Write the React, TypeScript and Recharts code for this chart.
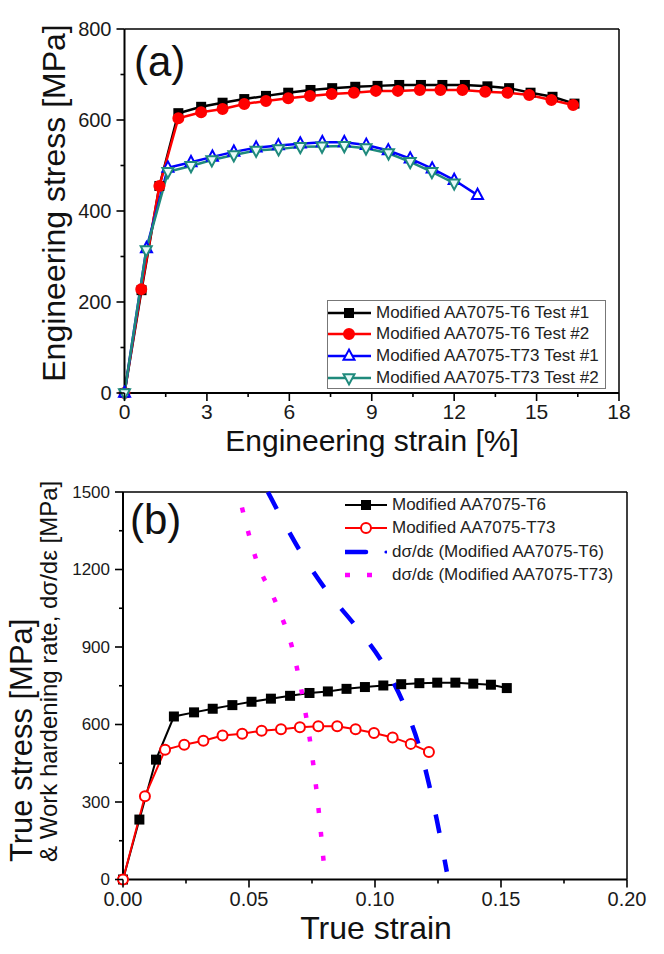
import React from "react";
import { LineChart, Line, XAxis, YAxis, ReferenceLine, Legend, Label } from "recharts";

const FONT = "'Liberation Sans', Arial, Helvetica, sans-serif";

// ---- (a) engineering stress-strain, [strain %, stress MPa]
const t6Test1: [number, number][] = [
  [0, 0], [0.62, 226], [1.27, 455], [1.96, 615], [2.79, 629], [3.57, 638], [4.36, 646],
  [5.15, 653], [5.96, 660], [6.77, 666], [7.56, 670], [8.4, 673], [9.21, 675], [10.0, 677],
  [10.79, 677], [11.57, 677], [12.39, 677], [13.21, 674], [14.0, 670], [14.78, 660],
  [15.58, 651], [16.38, 636],
];
const t6Test2: [number, number][] = [
  [0, 0], [0.61, 228], [1.27, 455], [1.96, 604], [2.79, 617], [3.57, 624], [4.36, 635],
  [5.15, 642], [5.96, 648], [6.75, 653], [7.54, 657], [8.35, 660], [9.15, 664], [9.95, 664],
  [10.75, 666], [11.5, 666], [12.3, 666], [13.13, 662], [13.94, 660], [14.73, 655],
  [15.54, 644], [16.33, 633],
];
const t73Test1: [number, number][] = [
  [0, 0], [0.8, 318], [1.58, 495], [2.42, 507], [3.2, 519], [3.98, 530], [4.79, 539],
  [5.6, 544], [6.4, 548], [7.2, 551], [8.0, 551], [8.8, 545], [9.6, 533], [10.4, 515],
  [11.2, 493], [12.0, 468], [12.85, 435],
];
const t73Test2: [number, number][] = [
  [0, 0], [0.79, 314], [1.58, 486], [2.42, 499], [3.18, 512], [3.98, 523], [4.79, 533],
  [5.61, 536], [6.4, 541], [7.19, 542], [8.0, 543], [8.79, 538], [9.61, 527], [10.4, 508],
  [11.19, 486], [12.0, 461],
];
const strainTicksA = [0, 1.5, 3, 4.5, 6, 7.5, 9, 10.5, 12, 13.5, 15, 16.5, 18];
const stressTicksA = [0, 100, 200, 300, 400, 500, 600, 700, 800];

// ---- (b) true stress-strain and work hardening rate, [true strain, MPa]
const trueT6: [number, number][] = [
  [0, 0], [0.0065, 232], [0.0131, 464], [0.0202, 631], [0.0282, 647], [0.0356, 661],
  [0.0434, 675], [0.051, 688], [0.0587, 700], [0.0663, 711], [0.074, 722], [0.0813, 728],
  [0.0887, 738], [0.096, 745], [0.1033, 751], [0.1104, 756], [0.1176, 760], [0.1247, 762],
  [0.1319, 762], [0.139, 758], [0.146, 754], [0.1523, 741],
];
const trueT73: [number, number][] = [
  [0, 0], [0.0087, 322], [0.0167, 502], [0.0243, 522], [0.0319, 537], [0.0395, 557],
  [0.0473, 564], [0.055, 576], [0.0627, 582], [0.0702, 589], [0.0775, 593], [0.085, 593],
  [0.0923, 582], [0.0996, 567], [0.107, 550], [0.1142, 525], [0.1214, 494],
];
const hardT6: [number, number][] = [
  [0.0575, 1500], [0.0716, 1250], [0.0821, 1101], [0.0914, 992], [0.1046, 812],
  [0.1126, 651], [0.1179, 503], [0.1245, 232], [0.1285, 30],
];
const hardT73: [number, number][] = [
  [0.0472, 1440], [0.0527, 1243], [0.061, 1063], [0.0676, 879], [0.0715, 696],
  [0.0745, 518], [0.0769, 335], [0.0798, 50],
];
const strainTicksB = [0, 0.025, 0.05, 0.075, 0.1, 0.125, 0.15, 0.175, 0.2];
const stressTicksB = [0, 150, 300, 450, 600, 750, 900, 1050, 1200, 1350, 1500];

const pts = (arr: [number, number][]) => arr.map(([x, y]) => ({ x, y }));

type TickOpts = { side: "left" | "bottom"; fontSize: number; gap: number; fmt: (v: number) => string };
const makeTick = (o: TickOpts) => (props: any) => {
  const { x, y, payload, index } = props;
  const major = index % 2 === 0;
  const len = major ? 8 : 4;
  if (o.side === "left") {
    return (
      <g>
        <line x1={x} x2={x - len} y1={y} y2={y} stroke="#000" strokeWidth={1.6} />
        {major && (
          <text x={x - 8 - o.gap} y={y} textAnchor="end" dominantBaseline="central"
            fontSize={o.fontSize} fontFamily={FONT} fill="#1a1a1a">
            {o.fmt(payload.value)}
          </text>
        )}
      </g>
    );
  }
  return (
    <g>
      <line x1={x} x2={x} y1={y} y2={y + len} stroke="#000" strokeWidth={1.6} />
      {major && (
        <text x={x} y={y + 8 + o.gap} textAnchor="middle" dominantBaseline="hanging"
          fontSize={o.fontSize} fontFamily={FONT} fill="#1a1a1a">
          {o.fmt(payload.value)}
        </text>
      )}
    </g>
  );
};

const square = (size: number, color: string) => (p: any) => (
  <rect key={`sq${p.index}`} x={p.cx - size / 2} y={p.cy - size / 2} width={size} height={size} fill={color} />
);
const circle = (r: number, stroke: string, fill: string) => (p: any) => (
  <circle key={`ci${p.index}`} cx={p.cx} cy={p.cy} r={r} fill={fill} stroke={stroke} strokeWidth={2} />
);
const triangle = (s: number, stroke: string, fill: string, down: boolean) => (p: any) => {
  const d = down ? -1 : 1;
  const { cx, cy } = p;
  const points = `${cx},${cy - d * s * 0.58} ${cx - s / 2},${cy + d * s * 0.35} ${cx + s / 2},${cy + d * s * 0.35}`;
  return <polygon key={`tr${p.index}`} points={points} fill={fill} stroke={stroke} strokeWidth={2} />;
};

const legendItemsA = [
  { name: "Modified AA7075-T6 Test #1", color: "#000000", dot: square(10, "#000000") },
  { name: "Modified AA7075-T6 Test #2", color: "#ff0000", dot: circle(5, "#ff0000", "#ff0000") },
  { name: "Modified AA7075-T73 Test #1", color: "#0000ff", dot: triangle(11, "#0000ff", "#ffffff", false) },
  { name: "Modified AA7075-T73 Test #2", color: "#1f8a7c", dot: triangle(11, "#1f8a7c", "#e8fbf8", true) },
];

const LegendA = () => (
  <div style={{ border: "1px solid #777", background: "#fff", padding: "1px 6px 0 0",
    fontFamily: FONT, fontSize: 17, color: "#222" }}>
    {legendItemsA.map((it) => (
      <div key={it.name} style={{ display: "flex", alignItems: "center", height: 21.6 }}>
        <svg width={43} height={20} style={{ display: "block" }}>
          <line x1={0} x2={43} y1={10} y2={10} stroke={it.color} strokeWidth={2.5} />
          {it.dot({ cx: 21, cy: 10, index: 0 })}
        </svg>
        <span style={{ marginLeft: 5, whiteSpace: "nowrap" }}>{it.name}</span>
      </div>
    ))}
  </div>
);

const LegendB = () => {
  const rows = [
    { name: "Modified AA7075-T6", sample: (
      <>
        <line x1={0} x2={42} y1={10} y2={10} stroke="#000" strokeWidth={2} />
        {square(10, "#000")({ cx: 21, cy: 10, index: 0 })}
      </>) },
    { name: "Modified AA7075-T73", sample: (
      <>
        <line x1={0} x2={42} y1={10} y2={10} stroke="#ff0000" strokeWidth={2} />
        {circle(5, "#ff0000", "#fff")({ cx: 21, cy: 10, index: 0 })}
      </>) },
    { name: "d\u03c3/d\u03b5 (Modified AA7075-T6)", sample: (
      <>
        <line x1={0} x2={21} y1={10} y2={10} stroke="#0000ff" strokeWidth={4.5} strokeLinecap="round" />
        <circle cx={41} cy={10} r={1.6} fill="#0000ff" />
      </>) },
    { name: "d\u03c3/d\u03b5 (Modified AA7075-T73)", sample: (
      <>
        <line x1={0} x2={42} y1={10} y2={10} stroke="#ff00ff" strokeWidth={4.5} strokeDasharray="5 17" />
      </>) },
  ];
  return (
    <div style={{ fontFamily: FONT, fontSize: 17, color: "#222" }}>
      {rows.map((r) => (
        <div key={r.name} style={{ display: "flex", alignItems: "center", height: 23.3 }}>
          <svg width={42} height={20} style={{ display: "block" }}>{r.sample}</svg>
          <span style={{ marginLeft: 5, whiteSpace: "nowrap" }}>{r.name}</span>
        </div>
      ))}
    </div>
  );
};

const txt = (x: number, y: number, s: string, size: number, extra: any = {}) => () => (
  <text x={x} y={y} fontSize={size} fontFamily={FONT} fill="#111" {...extra}>{s}</text>
);

export default function App() {
  return (
    <div style={{ position: "absolute", left: 0, top: 0, width: 664, height: 954, background: "#fff" }}>
      <div style={{ position: "absolute", left: 0, top: 0 }}>
        <LineChart width={664} height={470} margin={{ top: 29, right: 45, left: 0, bottom: 0 }}>
          <XAxis type="number" dataKey="x" domain={[0, 18]} ticks={strainTicksA} interval={0}
            allowDuplicatedCategory={false} tickSize={0} tickMargin={0} height={77}
            axisLine={{ stroke: "#000", strokeWidth: 2 }} tickLine={false}
            tick={makeTick({ side: "bottom", fontSize: 21, gap: 3, fmt: (v) => String(v) })}>
            <Label content={txt(372, 451, "Engineering strain [%]", 30, { textAnchor: "middle" })} />
            <Label content={txt(134, 76, "(a)", 42)} />
          </XAxis>
          <YAxis type="number" dataKey="y" domain={[0, 800]} ticks={stressTicksA} interval={0}
            width={124.5} tickSize={0} tickMargin={0}
            axisLine={{ stroke: "#000", strokeWidth: 2 }} tickLine={false}
            tick={makeTick({ side: "left", fontSize: 20, gap: 5, fmt: (v) => String(v) })}>
            <Label content={txt(54, 203, "Engineering stress [MPa]", 32,
              { textAnchor: "middle", dominantBaseline: "central", transform: "rotate(-90 54 203)" })} />
          </YAxis>
          <ReferenceLine y={800} stroke="#000" strokeWidth={1.5} />
          <ReferenceLine x={18} stroke="#000" strokeWidth={1.5} />
          <Line data={pts(t6Test1)} dataKey="y" stroke="#000" strokeWidth={2.5} type="linear"
            dot={square(10, "#000")} isAnimationActive={false} />
          <Line data={pts(t6Test2)} dataKey="y" stroke="#ff0000" strokeWidth={2.5} type="linear"
            dot={circle(5, "#ff0000", "#ff0000")} isAnimationActive={false} />
          <Line data={pts(t73Test1)} dataKey="y" stroke="#0000ff" strokeWidth={2.5} type="linear"
            dot={triangle(11, "#0000ff", "#ffffff", false)} isAnimationActive={false} />
          <Line data={pts(t73Test2)} dataKey="y" stroke="#1f8a7c" strokeWidth={2.5} type="linear"
            dot={triangle(11, "#1f8a7c", "#e8fbf8", true)} isAnimationActive={false} />
          <Legend layout="vertical" align="center" verticalAlign="middle"
            wrapperStyle={{ left: 327, top: 300, width: "auto" }} content={() => <LegendA />} />
        </LineChart>
      </div>

      <div style={{ position: "absolute", left: 0, top: 470 }}>
        <LineChart width={664} height={484} margin={{ top: 22, right: 37, left: 0, bottom: 0 }}>
          <XAxis type="number" dataKey="x" domain={[0, 0.2]} ticks={strainTicksB} interval={0}
            allowDuplicatedCategory={false} tickSize={0} tickMargin={0} height={74.5}
            axisLine={{ stroke: "#000", strokeWidth: 2 }} tickLine={false}
            tick={makeTick({ side: "bottom", fontSize: 20, gap: 4, fmt: (v) => v.toFixed(2) })}>
            <Label content={txt(376, 469, "True strain", 32, { textAnchor: "middle" })} />
            <Label content={txt(130, 64, "(b)", 42)} />
          </XAxis>
          <YAxis type="number" dataKey="y" domain={[0, 1500]} ticks={stressTicksB} interval={0}
            width={123} tickSize={0} tickMargin={0}
            axisLine={{ stroke: "#000", strokeWidth: 2 }} tickLine={false}
            tick={makeTick({ side: "left", fontSize: 17, gap: 5, fmt: (v) => String(v) })}>
            <Label content={txt(21, 392, "True stress [MPa]", 31,
              { dominantBaseline: "central", transform: "rotate(-90 21 392)" })} />
            <Label content={txt(48, 392, "& Work hardening rate, d\u03c3/d\u03b5 [MPa]", 24,
              { dominantBaseline: "central", transform: "rotate(-90 48 392)" })} />
          </YAxis>
          <ReferenceLine y={1500} stroke="#000" strokeWidth={1.5} />
          <ReferenceLine x={0.2} stroke="#000" strokeWidth={1.5} />
          <Line data={pts(trueT6)} dataKey="y" stroke="#000" strokeWidth={2} type="linear"
            dot={square(10, "#000")} isAnimationActive={false} />
          <Line data={pts(trueT73)} dataKey="y" stroke="#ff0000" strokeWidth={2} type="linear"
            dot={circle(5, "#ff0000", "#ffffff")} isAnimationActive={false} />
          <Line data={pts(hardT6)} dataKey="y" stroke="#0000ff" strokeWidth={4.5} type="monotone"
            strokeDasharray="19 27" dot={false} isAnimationActive={false} />
          <Line data={pts(hardT73)} dataKey="y" stroke="#ff00ff" strokeWidth={4.5} type="monotone"
            strokeDasharray="5 19" dot={false} isAnimationActive={false} />
          <Legend layout="vertical" align="center" verticalAlign="middle"
            wrapperStyle={{ left: 345, top: 23.5, width: "auto" }} content={() => <LegendB />} />
        </LineChart>
      </div>
    </div>
  );
}
